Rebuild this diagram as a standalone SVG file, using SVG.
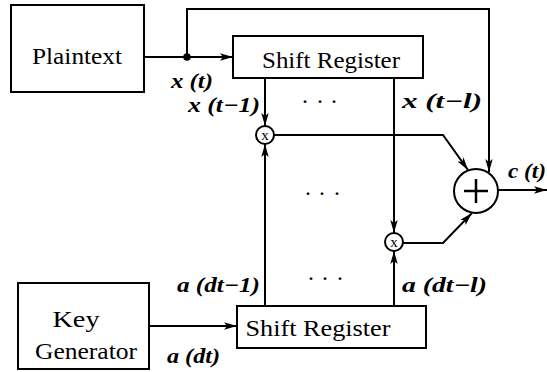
<svg xmlns="http://www.w3.org/2000/svg" width="547" height="372" viewBox="0 0 547 372">
<style>
  .box { fill: #fff; stroke: #000; stroke-width: 2; }
  .lbl { font-size: 24px; fill: #000; }
  .math { font-size: 21px; font-style: italic; font-weight: bold; fill: #000; }
  .dots { font-size: 24px; fill: #000; }
  .wire { fill: none; stroke: #000; stroke-width: 2; }
  .op { fill: #fff; stroke: #000; stroke-width: 2; }
</style>
<defs>
  <marker id="arr" markerUnits="userSpaceOnUse" markerWidth="14" markerHeight="10" refX="13" refY="5" orient="auto">
    <path d="M0,1.3 L13,5 L0,8.7 L3,5 Z" fill="#000"/>
  </marker>
</defs>
<rect width="547" height="372" fill="#fff"/>

<g id="connectors">
  <line class="wire" x1="144" y1="57" x2="233" y2="57" marker-end="url(#arr)"/>
  <path class="wire" d="M187,57 V9 H489 V172" marker-end="url(#arr)"/>
  <circle cx="187" cy="57" r="3.8" fill="#000"/>
  <line class="wire" x1="265" y1="78" x2="265" y2="126" marker-end="url(#arr)"/>
  <line class="wire" x1="265" y1="306" x2="265" y2="144" marker-end="url(#arr)"/>
  <path class="wire" d="M274,135 H443 L468,170" marker-end="url(#arr)"/>
  <line class="wire" x1="394" y1="78" x2="394" y2="233" marker-end="url(#arr)"/>
  <line class="wire" x1="394" y1="306" x2="394" y2="251" marker-end="url(#arr)"/>
  <path class="wire" d="M403,243 H443 L472,213" marker-end="url(#arr)"/>
  <line class="wire" x1="498" y1="190" x2="547" y2="190" marker-end="url(#arr)"/>
  <line class="wire" x1="149" y1="326" x2="237" y2="326" marker-end="url(#arr)"/>
</g>

<g font-family="'Liberation Serif', 'DejaVu Serif', serif">
<g id="plaintext">
  <rect class="box" x="11" y="5" width="133" height="87"/>
  <text class="lbl" x="77" y="64" text-anchor="middle" textLength="90" lengthAdjust="spacingAndGlyphs">Plaintext</text>
</g>

<g id="keygen">
  <rect class="box" x="18" y="283" width="131" height="86"/>
  <text class="lbl" x="76" y="327" text-anchor="middle" textLength="47" lengthAdjust="spacingAndGlyphs">Key</text>
  <text class="lbl" x="86" y="359" text-anchor="middle" textLength="102" lengthAdjust="spacingAndGlyphs">Generator</text>
</g>

<g id="shiftreg-top">
  <rect class="box" x="233" y="36" width="190" height="42"/>
  <text class="lbl" x="331" y="68" text-anchor="middle" textLength="138" lengthAdjust="spacingAndGlyphs">Shift Register</text>
</g>

<g id="shiftreg-bottom">
  <rect class="box" x="237" y="306" width="189" height="42"/>
  <text class="lbl" x="318" y="336" text-anchor="middle" textLength="145" lengthAdjust="spacingAndGlyphs">Shift Register</text>
</g>

<g id="mult1">
  <circle class="op" cx="265" cy="135" r="9"/>
  <text x="265" y="139.5" text-anchor="middle" font-size="15">x</text>
</g>

<g id="mult2">
  <circle class="op" cx="394" cy="242" r="9"/>
  <text x="394" y="246.5" text-anchor="middle" font-size="15">x</text>
</g>

<g id="adder">
  <circle class="op" cx="476" cy="191" r="22"/>
  <line x1="464" y1="191" x2="488" y2="191" stroke="#000" stroke-width="2.5"/>
  <line x1="476" y1="179" x2="476" y2="203" stroke="#000" stroke-width="2.5"/>
</g>

<g id="labels">
  <text class="math" x="171" y="88" textLength="42" lengthAdjust="spacingAndGlyphs">x (t)</text>
  <text class="math" x="188" y="112" textLength="72" lengthAdjust="spacingAndGlyphs">x (t−1)</text>
  <text class="math" x="402" y="108" textLength="80" lengthAdjust="spacingAndGlyphs">x (t−l)</text>
  <text class="math" x="177" y="292" textLength="83" lengthAdjust="spacingAndGlyphs">a (dt−1)</text>
  <text class="math" x="167" y="363" textLength="53" lengthAdjust="spacingAndGlyphs">a (dt)</text>
  <text class="math" x="402" y="292" textLength="85" lengthAdjust="spacingAndGlyphs">a (dt−l)</text>
  <text class="math" x="508" y="178" textLength="38" lengthAdjust="spacingAndGlyphs">c (t)</text>
</g>

<g id="ellipses">
  <text class="dots" x="301 316 330" y="108.5">···</text>
  <text class="dots" x="304 318 333" y="200.5">···</text>
  <text class="dots" x="307 321 336" y="285.5">···</text>
</g>
</g>
</svg>
